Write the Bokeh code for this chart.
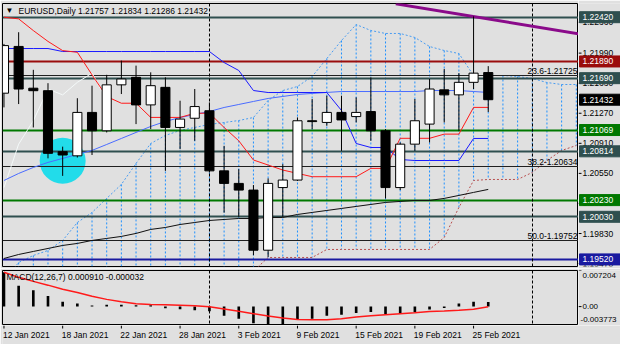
from bokeh.plotting import figure
from bokeh.layouts import column, row
from bokeh.models import Range1d, Label, ColumnDataSource
from bokeh.core.properties import value
from bokeh.embed import file_html
from bokeh.resources import INLINE

# ---------------- data ----------------
dates = ["12 Jan 2021", "13 Jan 2021", "14 Jan 2021", "15 Jan 2021",
         "18 Jan 2021", "19 Jan 2021", "20 Jan 2021", "21 Jan 2021", "22 Jan 2021",
         "25 Jan 2021", "26 Jan 2021", "27 Jan 2021", "28 Jan 2021", "29 Jan 2021",
         "1 Feb 2021", "2 Feb 2021", "3 Feb 2021", "4 Feb 2021", "5 Feb 2021",
         "8 Feb 2021", "9 Feb 2021", "10 Feb 2021", "11 Feb 2021", "12 Feb 2021",
         "15 Feb 2021", "16 Feb 2021", "17 Feb 2021", "18 Feb 2021", "19 Feb 2021",
         "22 Feb 2021", "23 Feb 2021", "24 Feb 2021", "25 Feb 2021", "26 Feb 2021"]

opens = [1.2151, 1.2207, 1.2157, 1.2154, 1.2081, 1.2076, 1.2128, 1.2106, 1.2161,
         1.2170, 1.2137, 1.2158, 1.2110, 1.2121, 1.2130, 1.2058, 1.2043, 1.2035,
         1.1963, 1.2038, 1.2047, 1.2118, 1.2116, 1.2128, 1.2123, 1.2129, 1.2106,
         1.2038, 1.2090, 1.2114, 1.2155, 1.2149, 1.2164, 1.21757]
highs = [1.2210, 1.2224, 1.2179, 1.2163, 1.2087, 1.2145, 1.2160, 1.2173, 1.2190,
         1.2184, 1.2176, 1.2170, 1.2142, 1.2156, 1.2140, 1.2088, 1.2060, 1.2041,
         1.2049, 1.2066, 1.2122, 1.2144, 1.2148, 1.2148, 1.2146, 1.2170, 1.2108,
         1.2092, 1.2144, 1.2168, 1.2180, 1.2175, 1.2243, 1.21834]
lows = [1.2134, 1.2138, 1.2110, 1.2073, 1.2052, 1.2074, 1.2077, 1.2104, 1.2150,
        1.2114, 1.2108, 1.2058, 1.2084, 1.2094, 1.2056, 1.2008, 1.2003, 1.1957,
        1.1955, 1.2003, 1.2046, 1.2108, 1.2112, 1.2082, 1.2116, 1.2094, 1.2025,
        1.2035, 1.2082, 1.2092, 1.2116, 1.2106, 1.2156, 1.21286]
closes = [1.2208, 1.2156, 1.2154, 1.2079, 1.2077, 1.2128, 1.2106, 1.2161, 1.2168,
          1.2137, 1.2160, 1.2110, 1.2120, 1.2135, 1.2058, 1.2043, 1.2035, 1.1963,
          1.2043, 1.2047, 1.2118, 1.2117, 1.2128, 1.2119, 1.2128, 1.2106, 1.2038,
          1.2090, 1.2118, 1.2156, 1.2149, 1.2164, 1.2175, 1.21432]

tenkan = [1.2242, 1.2240, 1.2226, 1.2213, 1.2202, 1.2200, 1.2173, 1.2147, 1.2139, 1.2139,
          1.2122, 1.2122, 1.2122, 1.2127, 1.2127, 1.2110, 1.2094, 1.2071, 1.2065, 1.2059,
          1.2055, 1.2051, 1.2051, 1.2051, 1.2051, 1.2061, 1.2061, 1.2097, 1.2097, 1.2097,
          1.2102, 1.2102, 1.2134, 1.2134]
kijun = [1.22045, 1.22045, 1.22045, 1.22045,
         1.22009, 1.22009, 1.22009, 1.22009, 1.22009, 1.22009, 1.22009, 1.22009, 1.22009,
         1.22009, 1.22009, 1.21877, 1.21782, 1.21542, 1.21518, 1.21518, 1.21518, 1.21518,
         1.21518, 1.21303, 1.20908, 1.20860, 1.20860, 1.20716, 1.20704, 1.20704, 1.20704,
         1.20704, 1.20968, 1.20968]
span_a = [1.19267, 1.19483, 1.19567, 1.19627, 1.19747, 1.19962, 1.20082, 1.20250, 1.20418,
          1.20669, 1.20908, 1.21004, 1.21064, 1.21100, 1.21136, 1.21159, 1.21183, 1.21219,
          1.21423, 1.21542, 1.21590, 1.21710, 1.21925, 1.22141, 1.22332, 1.22261, 1.22225,
          1.22225, 1.22177, 1.22069, 1.22021, 1.21985, 1.21722, 1.21722, 1.21722, 1.21710,
          1.21686, 1.21638, 1.21614, 1.21614]
span_b = [1.1905, 1.1905, 1.1905, 1.1905, 1.1912, 1.1912, 1.1912, 1.1912, 1.1920, 1.1920,
          1.1925, 1.1925, 1.1930, 1.1930, 1.1935, 1.1935, 1.1938, 1.1938,
          1.19543, 1.19543, 1.19543, 1.19543, 1.19639, 1.19639, 1.19639, 1.19639, 1.19639,
          1.19639, 1.19639, 1.19639, 1.19782, 1.20142, 1.20465, 1.20477, 1.20477, 1.20477,
          1.20561, 1.20705, 1.20824, 1.20884]
ma_blue = [1.20465, 1.20549, 1.20621, 1.20681, 1.20729, 1.20777, 1.20825, 1.20896, 1.20968,
           1.21040, 1.21112, 1.21172, 1.21219, 1.21255, 1.21291, 1.21339, 1.21375, 1.21411,
           1.21447, 1.21471, 1.21495, 1.21507, 1.21519, 1.21530, 1.21530, 1.21530, 1.21530,
           1.21530, 1.21530, 1.21542, 1.21542, 1.21542, 1.21530, 1.21519]
ma_black = [1.19531, 1.19579, 1.19615, 1.19651, 1.19687, 1.19711, 1.19747, 1.19771, 1.19795,
            1.19831, 1.19879, 1.19902, 1.19938, 1.19962, 1.19986, 1.19998, 1.20010, 1.20010,
            1.20022, 1.20022, 1.20058, 1.20082, 1.20106, 1.20130, 1.20154, 1.20178, 1.20202,
            1.20214, 1.20226, 1.20226, 1.20250, 1.20286, 1.20322, 1.20358]

macd_hist = [0.00685, 0.00415, 0.00327, 0.00211, 0.00096, 0.00063, 0.00022, 0.00035, 0.00035,
             0.00028, 0.00028, -0.00033, -0.00053, -0.00073, -0.00094, -0.00181, -0.00242,
             -0.00331, -0.00351, -0.00351, -0.00263, -0.00242, -0.00181, -0.00161, -0.00127,
             -0.00107, -0.00148, -0.00141, -0.00114, -0.00060, -0.00026, 0.00063, 0.00096,
             0.00091]
macd_signal = [0.00686, 0.00584, 0.00503, 0.00428, 0.00347, 0.00280, 0.00205, 0.00144, 0.00097,
               0.00056, 0.00043, 0.00036, 0.00029, 0.00016, -0.00005, -0.00046, -0.00094,
               -0.00141, -0.00189, -0.00229, -0.00256, -0.00263, -0.00263, -0.00242, -0.00209,
               -0.00182, -0.00161, -0.00141, -0.00121, -0.00100, -0.00087, -0.00073, -0.00053,
               -0.000032]
macd_max, macd_min = 0.007204, -0.003773
macd_tick_labels = ["0.007204", "0.00", "-0.003773"]

hlevels = [1.22420, 1.21890, 1.21690, 1.21069, 1.20814, 1.20230, 1.20030, 1.19520]
hlevel_colors = ["#2f4f4f", "#9a0c0c", "#2f4f4f", "#007800", "#2f4f4f", "#007800", "#2f4f4f", "#1a1aa0"]
fib_levels = [1.21725, 1.20634, 1.19752]
fib_names = ["23.6", "38.2", "50.0"]
trend_x = [26.7, 39.2]
trend_y = [1.2258, 1.2222]
separators = [14, 36]
marker_x = [4]
marker_y = [1.2070]
price_ticks = [1.19470, 1.19830, 1.20190, 1.20550, 1.20910, 1.21270, 1.21630, 1.21990, 1.22360]
box_prices = [1.22420, 1.21890, 1.21690, 1.21432, 1.21069, 1.20814, 1.20230, 1.20030, 1.19520]
box_colors = ["#2f4f4f", "#9a0c0c", "#2f4f4f", "#000000", "#007800", "#2f4f4f", "#007800", "#2f4f4f", "#1a1aa0"]
date_tick_idx = [0, 4, 8, 12, 16, 20, 24, 28, 32]
symbol_title = "EURUSD,Daily"
macd_title = "MACD(12,26,7) 0.000910 -0.000032"

# ---------------- styling ----------------
BG = "#e0e0e0"
FONT = "Liberation Sans"
FS = "8.5px"
x_lo, x_hi = -0.1, 39.15
y_lo, y_hi = 1.19435, 1.22584
FRAME_W = 576
MAIN_FRAME_H = 263
AXIS_W = 42

n = len(dates)
idx = list(range(n))
idx_cloud = list(range(len(span_a)))


def base_fig(w, h, xr, yr, top=0, bottom=0, left=0, outline="black"):
    f = figure(width=w, height=h, x_range=xr, y_range=yr,
               x_axis_location=None, y_axis_location=None, toolbar_location=None,
               output_backend="svg", min_border=0, min_border_left=left, min_border_right=0,
               min_border_top=top, min_border_bottom=bottom,
               background_fill_color=BG, border_fill_color=BG,
               outline_line_color=outline, outline_line_width=1)
    f.xgrid.visible = False
    f.ygrid.visible = False
    return f


# ---------------- main price panel ----------------
p = base_fig(FRAME_W + 2, MAIN_FRAME_H + 5, Range1d(x_lo, x_hi), Range1d(y_lo, y_hi),
             top=3, bottom=2, left=2)

p.scatter(marker_x, marker_y, size=46, fill_color="#22dcea", line_color=None)

p.segment(x0=idx_cloud, y0=span_a, x1=idx_cloud, y1=span_b,
          line_color="#1e90ff", line_dash="2 2", line_width=1)
p.line(idx_cloud, span_a, line_color="#4a9cf0", line_dash="2 2", line_width=1)
p.line(idx_cloud, span_b, line_color="#b85050", line_dash="2 2", line_width=1)

hsrc = ColumnDataSource(dict(y=hlevels, color=hlevel_colors))
p.hspan(y="y", line_color="color", line_width=2, source=hsrc)
p.hspan(y=fib_levels, line_color="#202020", line_width=1)
p.vspan(x=separators, line_color="black", line_dash="3 2", line_width=1)

p.line(idx[:n - 26], closes[26:], line_color="#f4f9f9", line_width=1)

p.line(idx, ma_black, line_color="#101010", line_width=1)
p.line(idx, ma_blue, line_color="#4a6cff", line_width=1)
p.line(idx, kijun, line_color="#1a1aff", line_width=1)
p.line(idx, tenkan, line_color="#ff1a1a", line_width=1)

p.line(trend_x, trend_y, line_color="#8a0a8a", line_width=3)

body_top = [max(o, c) for o, c in zip(opens, closes)]
body_bot = [min(o, c) for o, c in zip(opens, closes)]
body_col = ["white" if c >= o else "black" for o, c in zip(opens, closes)]
p.segment(x0=idx, y0=highs, x1=idx, y1=lows, line_color="black", line_width=1)
p.vbar(x=idx, bottom=body_bot, top=body_top, width=0.62, fill_color=body_col,
       line_color="black", line_width=1)

for name, lvl in zip(fib_names, fib_levels):
    p.add_layout(Label(x=x_hi, y=lvl, x_offset=-1, y_offset=1, text=f"{name}-{lvl:.5f}",
                       text_align="right", text_baseline="bottom", text_font=FONT,
                       text_font_size=FS, text_color="black"))

p.add_layout(Label(x=x_lo, y=y_hi, x_offset=3, y_offset=-2, text="\u25bc",
                   text_baseline="top", text_font=FONT, text_font_size="8px", text_color="black"))
p.add_layout(Label(x=x_lo, y=y_hi, x_offset=16, y_offset=-2,
                   text=f"{symbol_title}  {opens[-1]:.5f} {highs[-1]:.5f} {lows[-1]:.5f} {closes[-1]:.5f}",
                   text_baseline="top", text_font=FONT, text_font_size=FS, text_color="black"))

# ---------------- price axis panel ----------------
pa = base_fig(AXIS_W, MAIN_FRAME_H + 5, Range1d(0, AXIS_W), p.y_range, top=3, bottom=2,
              outline=None)
pa.segment(x0=[0] * len(price_ticks), y0=price_ticks, x1=[3] * len(price_ticks), y1=price_ticks,
           line_color="black", line_width=1)
pa.text(x=[4] * len(price_ticks), y=price_ticks, text=[f"{t:.5f}" for t in price_ticks],
        text_baseline="middle", text_align="left", text_font=value(FONT),
        text_font_size=FS, text_color="black")
half_box = 5.5 * (y_hi - y_lo) / MAIN_FRAME_H
pa.quad(left=[1] * len(box_prices), right=[AXIS_W] * len(box_prices),
        top=[b + half_box for b in box_prices], bottom=[b - half_box for b in box_prices],
        fill_color=box_colors, line_color=box_colors)
pa.text(x=[4] * len(box_prices), y=box_prices, text=[f"{b:.5f}" for b in box_prices],
        text_baseline="middle", text_align="left", text_font=value(FONT),
        text_font_size=FS, text_color="white")

# ---------------- MACD panel ----------------
m = base_fig(FRAME_W + 2, 57, p.x_range, Range1d(macd_min, macd_max), top=2, bottom=0, left=2)
m.vspan(x=separators, line_color="black", line_dash="3 2", line_width=1)
m.vbar(x=idx, bottom=0, top=macd_hist, width=0.18, fill_color="black", line_color=None)
m.line(idx, macd_signal, line_color="#ff1a1a", line_width=1.5)
m.add_layout(Label(x=x_lo, y=macd_max, x_offset=4, y_offset=-1, text=macd_title,
                   text_baseline="top", text_font=FONT, text_font_size=FS, text_color="black"))

ma = base_fig(AXIS_W, 57, Range1d(0, AXIS_W), m.y_range, top=2, bottom=0, outline=None)
macd_ticks = [macd_max, 0, macd_min]
ma.segment(x0=[0, 0, 0], y0=macd_ticks, x1=[3, 3, 3], y1=macd_ticks, line_color="black")
ma.text(x=[4, 4, 2], y=macd_ticks, text=macd_tick_labels,
        text_baseline="middle", text_align="left", y_offset=[5, 0, -6],
        text_font=value(FONT), text_font_size="8px", text_color="black")

# ---------------- date strip ----------------
strip_w = FRAME_W + 2 + AXIS_W
x_strip_hi = x_lo + (strip_w - 2) * (x_hi - x_lo) / FRAME_W
ds = base_fig(strip_w, 19, Range1d(x_lo, x_strip_hi), Range1d(0, 19), left=2, outline=None)
ds.segment(x0=date_tick_idx, y0=[19] * len(date_tick_idx), x1=date_tick_idx,
           y1=[16] * len(date_tick_idx), line_color="black")
ds.text(x=date_tick_idx, y=[15] * len(date_tick_idx), text=[dates[i] for i in date_tick_idx],
        text_baseline="top", text_align="left", x_offset=-1, text_font=value(FONT),
        text_font_size=FS, text_color="black")

layout = column(row(p, pa, spacing=0), row(m, ma, spacing=0), ds, spacing=0)
open("out.html", "w").write(file_html(layout, INLINE))
